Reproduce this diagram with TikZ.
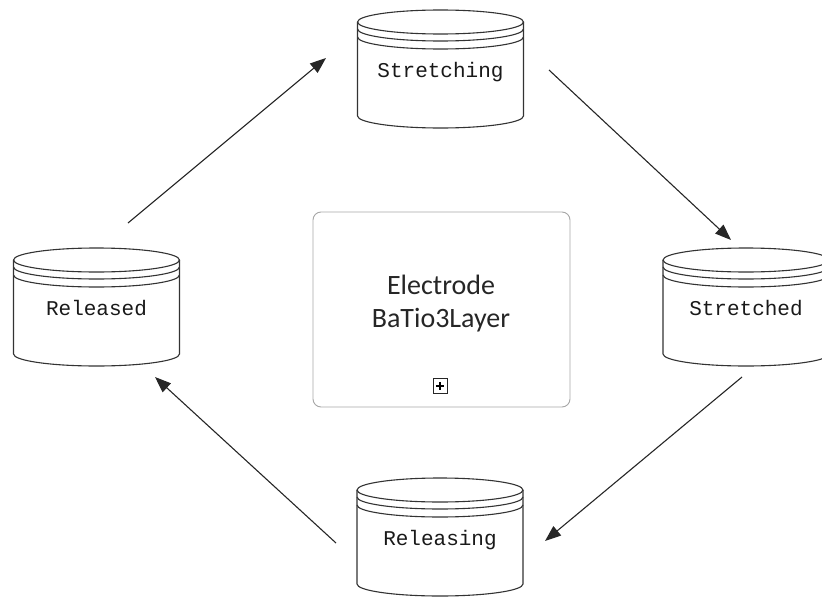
\documentclass[tikz,border=0pt]{standalone}
\usepackage{fontspec}
\setmainfont{Liberation Serif}
\setmonofont{Liberation Mono}
\setsansfont{Carlito}
\usetikzlibrary{arrows.meta}

% cilindro: nombre, x centro, y arriba, texto
\newcommand{\cilindro}[4]{%
  \draw[borde] (#2,#3+12) ellipse [x radius=83, y radius=12];
  \draw[borde] (#2+83,#3+19) arc[start angle=0, end angle=180, x radius=83, y radius=12];
  \draw[borde] (#2+83,#3+27) arc[start angle=0, end angle=180, x radius=83, y radius=12];
  \draw[borde] (#2+83,#3+12) -- (#2+83,#3+106)
    arc[start angle=0, end angle=180, x radius=83, y radius=12] -- (#2-83,#3+12);
  \node[etiqueta, anchor=base] (#1) at (#2,#3+67) {#4};
}

\begin{document}
\begin{tikzpicture}[x=1pt, y=-1pt,
  borde/.style={draw=black!80, line width=1.1pt},
  etiqueta/.style={font=\ttfamily\fontsize{21}{25}\selectfont, text=black!90, inner sep=0pt},
  flecha/.style={draw=black!85, line width=1.1pt, -{Triangle[length=16pt, width=12pt]}},
  caja/.style={draw=black!35, line width=0.9pt, rounded corners=8pt}]

\clip (0,0) rectangle (822,597);

% Cilindros
\cilindro{stretching}{440.5}{10}{Stretching}
\cilindro{released}{96.5}{248}{Released}
\cilindro{stretched}{746}{248}{Stretched}
\cilindro{releasing}{440}{478}{Releasing}

% Caja central
\node[caja, minimum width=257pt, minimum height=195pt] (capa) at (441.5,309.5) {};
\node[font=\sffamily\fontsize{28}{33}\selectfont, text=black!85, align=center] (capatexto) at (441,304) {Electrode\\BaTio3Layer};
\node[draw=black!85, line width=0.8pt, minimum width=14pt, minimum height=15pt, inner sep=0pt] (expandir) at (440,386) {};
\draw[line width=2pt] (expandir.center) ++(-4,0) -- ++(8,0);
\draw[line width=2pt] (expandir.center) ++(0,-4) -- ++(0,8);

% Extremos de flechas
\coordinate (releasedSale) at (128,223);
\coordinate (stretchingEntra) at (326,58);
\coordinate (stretchingSale) at (549,70);
\coordinate (stretchedEntra) at (731,240);
\coordinate (stretchedSale) at (742,377);
\coordinate (releasingEntra) at (545,541);
\coordinate (releasingSale) at (336,543);
\coordinate (releasedEntra) at (155,377);

% Flechas
\draw[flecha] (releasedSale) -- (stretchingEntra);
\draw[flecha] (stretchingSale) -- (stretchedEntra);
\draw[flecha] (stretchedSale) -- (releasingEntra);
\draw[flecha] (releasingSale) -- (releasedEntra);

\end{tikzpicture}
\end{document}
